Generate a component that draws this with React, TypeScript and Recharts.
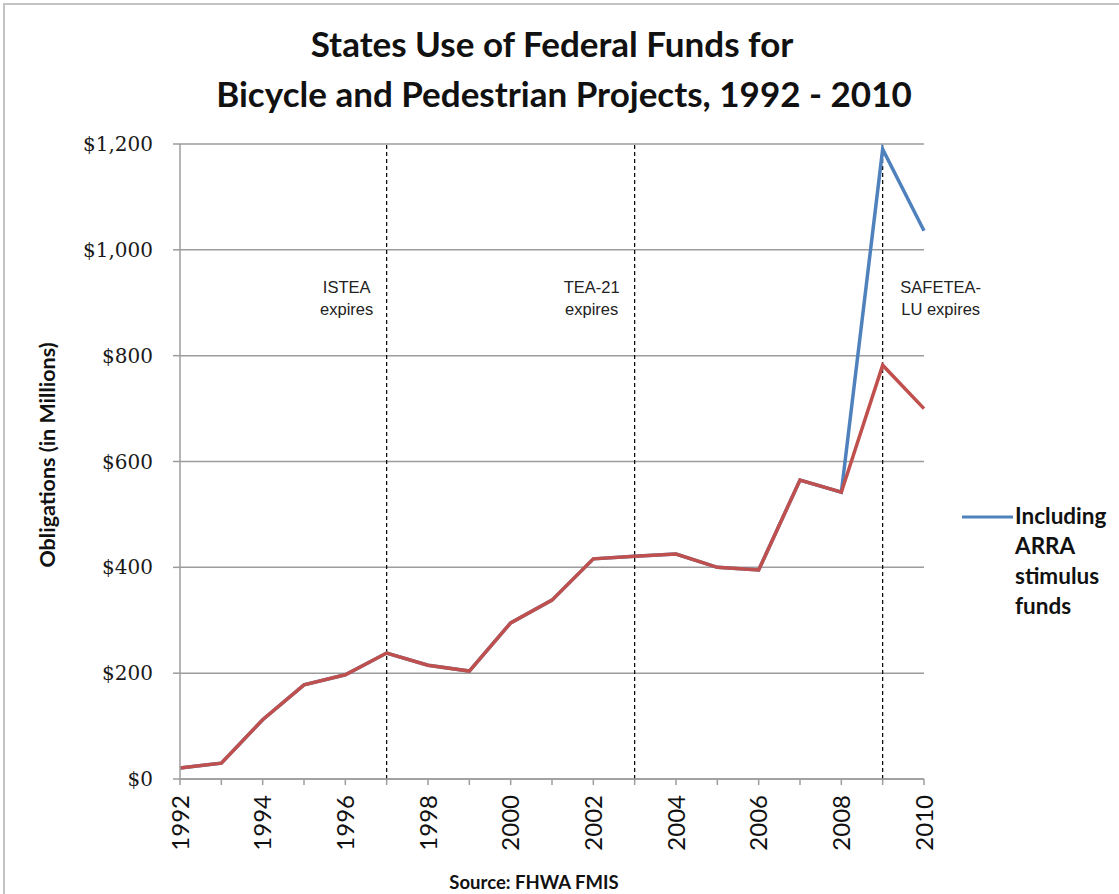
import { LineChart, Line, XAxis, YAxis, CartesianGrid, ReferenceLine } from "recharts";

const YEARS = [
  1992, 1993, 1994, 1995, 1996, 1997, 1998, 1999, 2000, 2001, 2002, 2003, 2004,
  2005, 2006, 2007, 2008, 2009, 2010,
];
// obligations in $ millions
const BASE_OBLIGATIONS = [
  21, 30, 112, 178, 197, 238, 215, 204, 295, 338, 416, 421, 425, 400, 395, 565,
  542, 782, 700,
];
const WITH_ARRA = [
  21, 30, 112, 178, 197, 238, 215, 204, 295, 338, 416, 421, 425, 400, 395, 565,
  542, 1190, 1036,
];
const Y_TICKS = [0, 200, 400, 600, 800, 1000, 1200];
const EXPIRY_YEARS = [1997, 2003, 2009];
const EXPIRY_LABELS = [
  ["ISTEA", "expires"],
  ["TEA-21", "expires"],
  ["SAFETEA-", "LU expires"],
];
const LEGEND_LINES = ["Including", "ARRA", "stimulus", "funds"];

// horizontal shift of each expiry note from its dashed line
const NOTE_SHIFT = [-40, -43, 58];

const BLUE = "#4F81BD";
const RED = "#C0504D";
const GRID = "#9c9c9c";
const CALIBRI = "Lato, 'Open Sans', sans-serif";

const chartData = YEARS.map((year, i) => ({
  year,
  base: BASE_OBLIGATIONS[i],
  arra: WITH_ARRA[i],
}));

const YearTick = (props: any) => {
  const { x, y, payload } = props;
  if (payload.value % 2 !== 0) return <g />;
  return (
    <text
      x={x}
      y={y}
      transform={`rotate(-90 ${x} ${y})`}
      textAnchor="end"
      dy="0.36em"
      fontFamily={CALIBRI}
      fontSize={24}
      fill="#111"
    >
      {payload.value}
    </text>
  );
};

const expiryNote = (i: number) => (props: any) => {
  const vb = props.viewBox;
  const cx = vb.x + NOTE_SHIFT[i];
  return (
    <text
      x={cx}
      y={293}
      textAnchor="middle"
      fontFamily="'Liberation Sans', Arial, sans-serif"
      fontSize={16.5}
      fill="#222"
    >
      <tspan x={cx}>{EXPIRY_LABELS[i][0]}</tspan>
      <tspan x={cx} dy={22}>
        {EXPIRY_LABELS[i][1]}
      </tspan>
    </text>
  );
};

export default function App() {
  return (
    <div
      style={{
        position: "absolute",
        left: 0,
        top: 0,
        width: 1119,
        height: 894,
        background: "#fff",
        overflow: "hidden",
      }}
    >
      {/* frame edge of the original picture */}
      <div
        style={{
          position: "absolute",
          left: 3,
          top: 3,
          right: -10,
          bottom: -10,
          borderLeft: "2px solid #c4c4c4",
          borderTop: "2px solid #c4c4c4",
        }}
      />
      <LineChart
        width={1119}
        height={894}
        data={chartData}
        margin={{ top: 144, right: 195, bottom: 0, left: 0 }}
      >
        <CartesianGrid vertical={false} stroke={GRID} strokeWidth={1.5} />
        <XAxis
          dataKey="year"
          type="number"
          domain={[1992, 2010]}
          ticks={YEARS}
          interval={0}
          tick={(p: any) => <YearTick {...p} />}
          tickSize={6}
          tickMargin={10}
          height={115}
          axisLine={{ stroke: GRID, strokeWidth: 1.5 }}
          tickLine={{ stroke: GRID, strokeWidth: 1.5 }}
        />
        <YAxis
          width={180}
          domain={[0, 1200]}
          ticks={Y_TICKS}
          interval={0}
          tickFormatter={(v: number) => "$" + v.toLocaleString("en-US")}
          tick={{ fontFamily: "'DejaVu Serif', serif", fontSize: 20, fill: "#1a1a1a" }}
          tickSize={7}
          tickMargin={20}
          axisLine={{ stroke: GRID, strokeWidth: 1.5 }}
          tickLine={{ stroke: GRID, strokeWidth: 1.5 }}
        />
        {EXPIRY_YEARS.map((yr, i) => (
          <ReferenceLine
            key={yr}
            x={yr}
            stroke="#000"
            strokeWidth={1.2}
            strokeDasharray="4 3"
            label={expiryNote(i)}
          />
        ))}
        <Line
          dataKey="arra"
          stroke={BLUE}
          strokeWidth={3.5}
          dot={false}
          isAnimationActive={false}
        />
        <Line
          dataKey="base"
          stroke={RED}
          strokeWidth={3.5}
          dot={false}
          isAnimationActive={false}
        />
      </LineChart>

      <svg
        width={1119}
        height={894}
        style={{ position: "absolute", left: 0, top: 0, pointerEvents: "none" }}
      >
        <text
          textAnchor="middle"
          fontFamily={CALIBRI}
          fontWeight="bold"
          fontSize={35}
          fill="#111"
        >
          <tspan x={552} y={57}>
            States Use of Federal Funds for
          </tspan>
          <tspan x={564} y={107}>
            Bicycle and Pedestrian Projects, 1992 - 2010
          </tspan>
        </text>
        <text
          transform="translate(55 455) rotate(-90)"
          textAnchor="middle"
          fontFamily={CALIBRI}
          fontWeight="bold"
          fontSize={21.5}
          fill="#111"
        >
          Obligations (in Millions)
        </text>
        <text
          x={534}
          y={889}
          textAnchor="middle"
          fontFamily={CALIBRI}
          fontWeight="bold"
          fontSize={18.5}
          fill="#111"
        >
          Source: FHWA FMIS
        </text>
        <line x1={962} y1={517} x2={1013} y2={517} stroke={BLUE} strokeWidth={3} />
        <text fontFamily={CALIBRI} fontWeight="bold" fontSize={22.5} fill="#111">
          {LEGEND_LINES.map((t, i) => (
            <tspan key={t} x={1015} y={524 + i * 30}>
              {t}
            </tspan>
          ))}
        </text>
      </svg>
    </div>
  );
}
